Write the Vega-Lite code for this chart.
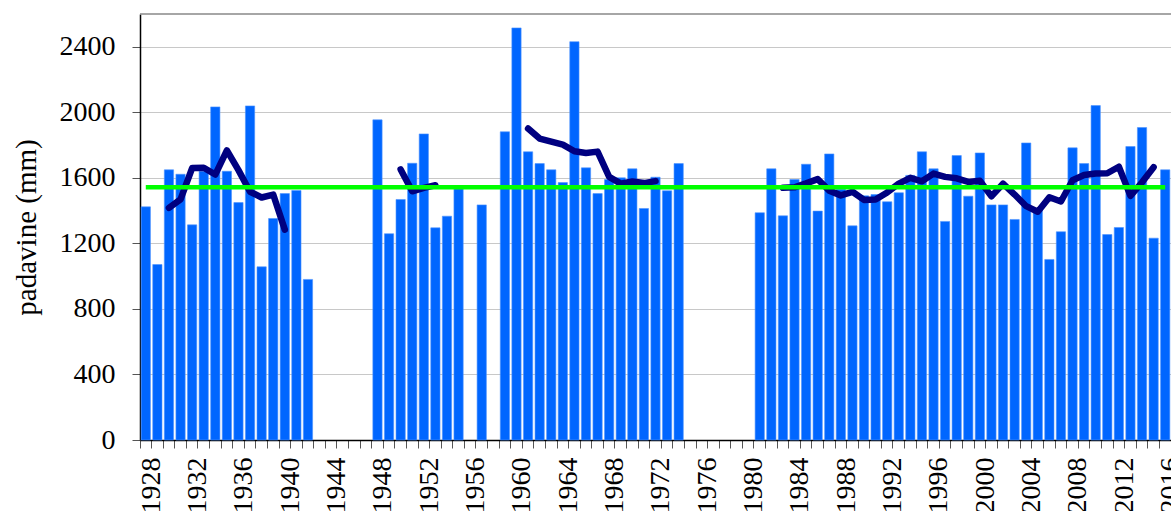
{
  "$schema": "https://vega.github.io/schema/vega-lite/v6.json",
  "width": 1031,
  "height": 426,
  "autosize": {"type": "none"},
  "padding": {"left": 140, "top": 14, "right": 0, "bottom": 71},
  "background": "white",
  "config": {"view": {"stroke": null}, "font": "Liberation Serif"},
  "datasets": {
    "bars": [
      {"year": 1928, "mm": 1423}, {"year": 1929, "mm": 1071}, {"year": 1930, "mm": 1649}, {"year": 1931, "mm": 1622},
      {"year": 1932, "mm": 1313}, {"year": 1933, "mm": 1640}, {"year": 1934, "mm": 2033}, {"year": 1935, "mm": 1640},
      {"year": 1936, "mm": 1449}, {"year": 1937, "mm": 2039}, {"year": 1938, "mm": 1057}, {"year": 1939, "mm": 1352},
      {"year": 1940, "mm": 1504}, {"year": 1941, "mm": 1523}, {"year": 1942, "mm": 980},
      {"year": 1948, "mm": 1954}, {"year": 1949, "mm": 1259}, {"year": 1950, "mm": 1468}, {"year": 1951, "mm": 1689},
      {"year": 1952, "mm": 1868}, {"year": 1953, "mm": 1295}, {"year": 1954, "mm": 1366}, {"year": 1955, "mm": 1533},
      {"year": 1957, "mm": 1435},
      {"year": 1959, "mm": 1881}, {"year": 1960, "mm": 2515}, {"year": 1961, "mm": 1759}, {"year": 1962, "mm": 1687},
      {"year": 1963, "mm": 1649}, {"year": 1964, "mm": 1571}, {"year": 1965, "mm": 2431}, {"year": 1966, "mm": 1661},
      {"year": 1967, "mm": 1504}, {"year": 1968, "mm": 1590}, {"year": 1969, "mm": 1600}, {"year": 1970, "mm": 1655},
      {"year": 1971, "mm": 1413}, {"year": 1972, "mm": 1604}, {"year": 1973, "mm": 1521}, {"year": 1974, "mm": 1687},
      {"year": 1981, "mm": 1387}, {"year": 1982, "mm": 1655}, {"year": 1983, "mm": 1368}, {"year": 1984, "mm": 1590},
      {"year": 1985, "mm": 1683}, {"year": 1986, "mm": 1397}, {"year": 1987, "mm": 1746}, {"year": 1988, "mm": 1530},
      {"year": 1989, "mm": 1307}, {"year": 1990, "mm": 1490}, {"year": 1991, "mm": 1498}, {"year": 1992, "mm": 1454},
      {"year": 1993, "mm": 1509}, {"year": 1994, "mm": 1615}, {"year": 1995, "mm": 1759}, {"year": 1996, "mm": 1655},
      {"year": 1997, "mm": 1334}, {"year": 1998, "mm": 1736}, {"year": 1999, "mm": 1488}, {"year": 2000, "mm": 1752},
      {"year": 2001, "mm": 1435}, {"year": 2002, "mm": 1435}, {"year": 2003, "mm": 1346}, {"year": 2004, "mm": 1813},
      {"year": 2005, "mm": 1410}, {"year": 2006, "mm": 1102}, {"year": 2007, "mm": 1271}, {"year": 2008, "mm": 1783},
      {"year": 2009, "mm": 1687}, {"year": 2010, "mm": 2041}, {"year": 2011, "mm": 1254}, {"year": 2012, "mm": 1297},
      {"year": 2013, "mm": 1791}, {"year": 2014, "mm": 1907}, {"year": 2015, "mm": 1232}, {"year": 2016, "mm": 1649}
    ],
    "ma": [
      {"seg": 1, "year": 1930, "mm": 1417}, {"seg": 1, "year": 1931, "mm": 1468}, {"seg": 1, "year": 1932, "mm": 1660},
      {"seg": 1, "year": 1933, "mm": 1662}, {"seg": 1, "year": 1934, "mm": 1620}, {"seg": 1, "year": 1935, "mm": 1768},
      {"seg": 1, "year": 1936, "mm": 1647}, {"seg": 1, "year": 1937, "mm": 1515}, {"seg": 1, "year": 1938, "mm": 1480},
      {"seg": 1, "year": 1939, "mm": 1498}, {"seg": 1, "year": 1940, "mm": 1284},
      {"seg": 2, "year": 1950, "mm": 1651}, {"seg": 2, "year": 1951, "mm": 1518}, {"seg": 2, "year": 1952, "mm": 1539},
      {"seg": 2, "year": 1953, "mm": 1555},
      {"seg": 3, "year": 1961, "mm": 1901}, {"seg": 3, "year": 1962, "mm": 1840}, {"seg": 3, "year": 1963, "mm": 1821},
      {"seg": 3, "year": 1964, "mm": 1803}, {"seg": 3, "year": 1965, "mm": 1762}, {"seg": 3, "year": 1966, "mm": 1752},
      {"seg": 3, "year": 1967, "mm": 1760}, {"seg": 3, "year": 1968, "mm": 1606}, {"seg": 3, "year": 1969, "mm": 1565},
      {"seg": 3, "year": 1970, "mm": 1578}, {"seg": 3, "year": 1971, "mm": 1568}, {"seg": 3, "year": 1972, "mm": 1580},
      {"seg": 4, "year": 1983, "mm": 1539}, {"seg": 4, "year": 1984, "mm": 1542}, {"seg": 4, "year": 1985, "mm": 1566},
      {"seg": 4, "year": 1986, "mm": 1592}, {"seg": 4, "year": 1987, "mm": 1522}, {"seg": 4, "year": 1988, "mm": 1493},
      {"seg": 4, "year": 1989, "mm": 1515}, {"seg": 4, "year": 1990, "mm": 1465}, {"seg": 4, "year": 1991, "mm": 1468},
      {"seg": 4, "year": 1992, "mm": 1511}, {"seg": 4, "year": 1993, "mm": 1565}, {"seg": 4, "year": 1994, "mm": 1600},
      {"seg": 4, "year": 1995, "mm": 1579}, {"seg": 4, "year": 1996, "mm": 1626}, {"seg": 4, "year": 1997, "mm": 1606},
      {"seg": 4, "year": 1998, "mm": 1597}, {"seg": 4, "year": 1999, "mm": 1575}, {"seg": 4, "year": 2000, "mm": 1582},
      {"seg": 4, "year": 2001, "mm": 1487}, {"seg": 4, "year": 2002, "mm": 1564}, {"seg": 4, "year": 2003, "mm": 1498},
      {"seg": 4, "year": 2004, "mm": 1427}, {"seg": 4, "year": 2005, "mm": 1393}, {"seg": 4, "year": 2006, "mm": 1482},
      {"seg": 4, "year": 2007, "mm": 1456}, {"seg": 4, "year": 2008, "mm": 1585}, {"seg": 4, "year": 2009, "mm": 1617},
      {"seg": 4, "year": 2010, "mm": 1626}, {"seg": 4, "year": 2011, "mm": 1628}, {"seg": 4, "year": 2012, "mm": 1668},
      {"seg": 4, "year": 2013, "mm": 1490}, {"seg": 4, "year": 2014, "mm": 1573}, {"seg": 4, "year": 2015, "mm": 1665}
    ],
    "mean": [{"year": 1928, "mm": 1543}, {"year": 2016, "mm": 1543}],
    "frame": [{"mm": 2600}]
  },
  "layer": [
    {
      "data": {"name": "bars"},
      "mark": {"type": "bar", "color": "#0066ff", "stroke": "#4d94ff", "strokeWidth": 0.6},
      "encoding": {
        "x": {
          "field": "year", "type": "ordinal",
          "scale": {
            "type": "band", "paddingInner": 0.2, "paddingOuter": 0.1,
            "domain": [1928,1929,1930,1931,1932,1933,1934,1935,1936,1937,1938,1939,1940,1941,1942,1943,1944,1945,1946,1947,1948,1949,1950,1951,1952,1953,1954,1955,1956,1957,1958,1959,1960,1961,1962,1963,1964,1965,1966,1967,1968,1969,1970,1971,1972,1973,1974,1975,1976,1977,1978,1979,1980,1981,1982,1983,1984,1985,1986,1987,1988,1989,1990,1991,1992,1993,1994,1995,1996,1997,1998,1999,2000,2001,2002,2003,2004,2005,2006,2007,2008,2009,2010,2011,2012,2013,2014,2015,2016]
          },
          "axis": {
            "title": null,
            "bandPosition": -0.125,
            "labelOffset": 5.8,
            "labelExpr": "datum.value % 4 == 0 ? datum.label : ''",
            "labelAngle": 270,
            "labelAlign": "right",
            "labelBaseline": "middle",
            "labelFont": "Liberation Serif",
            "labelFontSize": 28,
            "labelColor": "black",
            "labelPadding": 9,
            "labelOverlap": false,
            "labelBound": false,
            "tickSize": 8,
            "tickColor": "#555555",
            "tickWidth": 1,
            "domainColor": "black",
            "domainWidth": 1.5,
            "grid": false
          }
        },
        "y": {
          "field": "mm", "type": "quantitative",
          "scale": {"domain": [0, 2600], "nice": false},
          "axis": {
            "values": [0, 400, 800, 1200, 1600, 2000, 2400],
            "format": "d",
            "title": "padavine (mm)",
            "titleFont": "Liberation Serif",
            "titleFontSize": 29,
            "titleFontWeight": "normal",
            "titleColor": "black",
            "titlePadding": 18,
            "labelFont": "Liberation Serif",
            "labelFontSize": 28,
            "labelColor": "black",
            "labelPadding": 17,
            "tickSize": 8,
            "tickColor": "#555555",
            "domainColor": "black",
            "domainWidth": 1.5,
            "grid": true,
            "gridColor": "#c8c8c8",
            "gridWidth": 1
          }
        }
      }
    },
    {
      "data": {"name": "frame"},
      "mark": {"type": "rule", "color": "#888888", "strokeWidth": 1.6},
      "encoding": {"y": {"field": "mm", "type": "quantitative"}}
    },
    {
      "data": {"name": "ma"},
      "mark": {"type": "line", "color": "#000080", "strokeWidth": 6.5, "strokeCap": "round", "strokeJoin": "round"},
      "encoding": {
        "x": {"field": "year", "type": "ordinal"},
        "y": {"field": "mm", "type": "quantitative"},
        "detail": {"field": "seg"}
      }
    },
    {
      "data": {"name": "mean"},
      "mark": {"type": "line", "color": "#00ff00", "strokeWidth": 4.5},
      "encoding": {
        "x": {"field": "year", "type": "ordinal"},
        "y": {"field": "mm", "type": "quantitative"}
      }
    }
  ]
}
